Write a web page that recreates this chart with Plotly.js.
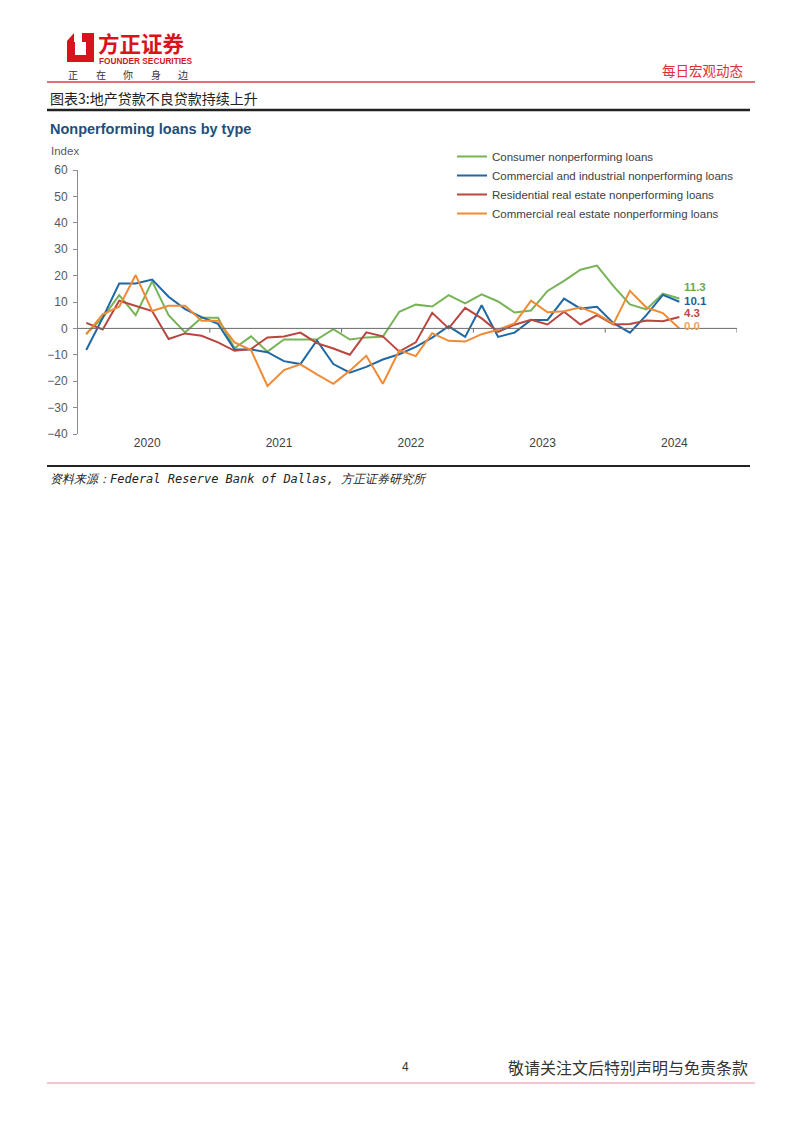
<!DOCTYPE html>
<html>
<head>
<meta charset="utf-8">
<script src="https://cdn.plot.ly/plotly-3.0.1.min.js"></script>
<style>html,body{margin:0;padding:0;background:#fff;}#chart{width:802px;height:1133px;}</style>
</head>
<body>
<div id="chart"></div>
<script>
// ---- data (8 survey readings per year) ----
const years = ['2020', '2021', '2022', '2023', '2024'];
const perYear = 8;
const seriesNames = [
  'Consumer nonperforming loans',
  'Commercial and industrial nonperforming loans',
  'Residential real estate nonperforming loans',
  'Commercial real estate nonperforming loans'
];
const consumer = [-2, 4, 12.6, 5, 17.8, 5, -1.5, 4, 4, -7.5, -3, -8.8, -4.2, -4.2, -4.2, -0.3, -4.2, -3.4, -3.2,
  6.3, 9, 8.3, 12.6, 9.5, 12.9, 10.2, 6, 6.8, 14.2, 18, 22.2, 23.8, 16, 9.1, 7.2, 13.2, 11.3];
const commercialIndustrial = [-8.2, 4, 17, 17, 18.5, 12, 7.3, 4.3, 1.7, -8, -8, -9, -12.4, -13.5, -4.6, -13.5, -16.8, -14.6, -11.8,
  -9.8, -7, -3.5, 0.8, -3.2, 8.8, -3.2, -1.6, 3.2, 3.2, 11.3, 7.5, 8.2, 2, -1.6, 5, 12.7, 10.1];
const residential = [2.1, -0.4, 10.5, 8.6, 6.6, -4, -1.9, -2.8, -5.3, -8.5, -7.8, -3.4, -3.1, -1.6, -5.6, -7.6, -10, -1.5, -3,
  -8.8, -5.3, 5.9, 0, 7.8, 3.8, -1.3, 1.4, 3.3, 1.5, 6.3, 1.5, 5, 1.5, 1.7, 3, 2.7, 4.3];
const commercialRE = [-2.3, 5.3, 8.2, 20.2, 6.6, 8.6, 8.6, 2.9, 2.9, -5.3, -8.2, -21.8, -15.8, -13.6, -17.4, -21, -16, -10.4, -21,
  -8.3, -10.5, -1.8, -4.7, -5, -2.2, -0.5, 1.9, 10.5, 6.1, 6.5, 8, 5.5, 1.7, 14.2, 7.9, 5.8, 0];
const yTicks = [60, 50, 40, 30, 20, 10, 0, -10, -20, -30, -40];
const sloganChars = ['正', '在', '你', '身', '边'];

// ---- styles ----
const colors = ['#77b457', '#1f68a3', '#b8463f', '#ef8a35'];
const labelColors = ['#6aaa4a', '#1f5f99', '#be4a47', '#f0a35a'];
const labelShift = [12, 1, 4, 2];

const W = 802, H = 1133;
const px = v => v / W;
const py = v => 1 - v / H;

const allSeries = [consumer, commercialIndustrial, residential, commercialRE];
const nSlots = years.length * perYear;

const traces = allSeries.map((s, k) => ({
  type: 'scatter', mode: 'lines', name: seriesNames[k],
  x: s.map((_, i) => i), y: s,
  line: {color: colors[k], width: 2},
  hoverinfo: 'skip'
}));

const shapes = [];
const annotations = [];
const font = 'Liberation Sans, Arial, sans-serif';
const cjk = 'Noto Sans CJK SC, sans-serif';

// zero line with year separators
shapes.push({type: 'line', xref: 'x', yref: 'y', x0: -0.5, x1: nSlots - 0.5, y0: 0, y1: 0, line: {color: '#6b6b6b', width: 1}});
for (let k = 1; k <= years.length; k++) {
  const xv = k * perYear - 0.5;
  shapes.push({type: 'line', xref: 'x', yref: 'y', x0: xv, x1: xv, y0: 0, y1: -1.6, line: {color: '#6b6b6b', width: 1}});
}

// end labels
allSeries.forEach((s, k) => {
  const last = s[s.length - 1];
  annotations.push({xref: 'x', yref: 'y', x: s.length - 1, y: last, text: '<b>' + last.toFixed(1) + '</b>',
    showarrow: false, xanchor: 'left', yanchor: 'middle', xshift: 4, yshift: labelShift[k], borderpad: 0,
    font: {family: font, size: 11.5, color: labelColors[k]}});
});

// chart title and axis unit
annotations.push({xref: 'paper', yref: 'paper', x: px(48), y: py(129), xanchor: 'left', yanchor: 'middle', showarrow: false,
  text: '<b>Nonperforming loans by type</b>', font: {family: font, size: 14.5, color: '#1d4f7c'}});
annotations.push({xref: 'paper', yref: 'paper', x: px(49), y: py(151), xanchor: 'left', yanchor: 'middle', showarrow: false,
  text: 'Index', font: {family: font, size: 11.5, color: '#595959'}});

// ---- page header ----
shapes.push({type: 'path', xref: 'paper', yref: 'paper', fillcolor: '#d7141d', line: {width: 0},
  path: `M ${px(74)} ${py(33)} L ${px(94)} ${py(33)} L ${px(94)} ${py(62)} L ${px(67)} ${py(62)} L ${px(67)} ${py(41)} Z
         M ${px(75)} ${py(42)} L ${px(86)} ${py(42)} L ${px(86)} ${py(55)} L ${px(75)} ${py(55)} Z`});
shapes.push({type: 'path', xref: 'paper', yref: 'paper', fillcolor: '#ffffff', line: {width: 0},
  path: `M ${px(74)} ${py(32)} L ${px(82)} ${py(32)} L ${px(82)} ${py(42)} L ${px(74)} ${py(42)} Z`});
annotations.push({xref: 'paper', yref: 'paper', x: px(96), y: py(43), xanchor: 'left', yanchor: 'middle', showarrow: false,
  text: '<b>方正证券</b>', font: {family: cjk, size: 21.5, color: '#d7141d'}});
annotations.push({xref: 'paper', yref: 'paper', x: px(97), y: py(61), xanchor: 'left', yanchor: 'middle', showarrow: false,
  text: '<b>FOUNDER SECURITIES</b>', font: {family: font, size: 8.3, color: '#d7141d'}});
sloganChars.forEach((c, i) => {
  annotations.push({xref: 'paper', yref: 'paper', x: px(73 + i * 27.5), y: py(75), xanchor: 'center', yanchor: 'middle', showarrow: false,
    text: c, font: {family: cjk, size: 10, color: '#333333'}});
});
annotations.push({xref: 'paper', yref: 'paper', x: px(745), y: py(70), xanchor: 'right', yanchor: 'middle', showarrow: false,
  text: '每日宏观动态', font: {family: cjk, size: 13.5, color: '#e0303a'}});
shapes.push({type: 'line', xref: 'paper', yref: 'paper', x0: px(47), x1: px(755), y0: py(82), y1: py(82), line: {color: '#e03a4c', width: 1.3}});
annotations.push({xref: 'paper', yref: 'paper', x: px(48), y: py(98), xanchor: 'left', yanchor: 'middle', showarrow: false,
  text: '图表3:地产贷款不良贷款持续上升', font: {family: cjk, size: 14, color: '#222222'}});
shapes.push({type: 'line', xref: 'paper', yref: 'paper', x0: px(47), x1: px(750), y0: py(110), y1: py(110), line: {color: '#222222', width: 2.5}});
shapes.push({type: 'line', xref: 'paper', yref: 'paper', x0: px(47), x1: px(750), y0: py(466), y1: py(466), line: {color: '#222222', width: 2}});
annotations.push({xref: 'paper', yref: 'paper', x: px(48), y: py(479), xanchor: 'left', yanchor: 'middle', showarrow: false,
  text: '<i>资料来源：Federal Reserve Bank of Dallas, 方正证券研究所</i>', font: {family: 'DejaVu Sans Mono, monospace', size: 12, color: '#222222'}});

// ---- footer ----
shapes.push({type: 'line', xref: 'paper', yref: 'paper', x0: px(47), x1: px(755), y0: py(1083), y1: py(1083), line: {color: '#e88a9c', width: 1}});
annotations.push({xref: 'paper', yref: 'paper', x: px(405), y: py(1067), xanchor: 'center', yanchor: 'middle', showarrow: false,
  text: '4', font: {family: font, size: 12, color: '#333333'}});
annotations.push({xref: 'paper', yref: 'paper', x: px(750), y: py(1067), xanchor: 'right', yanchor: 'middle', showarrow: false,
  text: '敬请关注文后特别声明与免责条款', font: {family: cjk, size: 16, color: '#333333'}});

const layout = {
  width: W, height: H,
  margin: {l: 0, r: 0, t: 0, b: 0},
  paper_bgcolor: '#ffffff', plot_bgcolor: 'rgba(0,0,0,0)',
  showlegend: true,
  legend: {x: px(452), y: py(142), xanchor: 'left', yanchor: 'top', bgcolor: 'rgba(0,0,0,0)',
    font: {family: font, size: 11.5, color: '#404040'}, tracegroupgap: 0, itemwidth: 30},
  xaxis: {domain: [px(78), px(737)], range: [-0.5, nSlots - 0.5], showgrid: false, zeroline: false, showline: false,
    ticks: '', tickvals: years.map((_, k) => k * perYear + (perYear - 1) / 2 + 0.2), ticktext: years,
    tickfont: {family: font, size: 12, color: '#404040'}, fixedrange: true},
  yaxis: {domain: [py(434), py(170)], range: [-40, 60], tickvals: yTicks, showgrid: false, zeroline: false,
    showline: true, linecolor: '#8c8c8c', linewidth: 1, ticks: 'outside', ticklen: 4, tickcolor: '#8c8c8c',
    ticklabelstandoff: 3, tickfont: {family: font, size: 12, color: '#595959'}, fixedrange: true},
  shapes: shapes,
  annotations: annotations
};

Plotly.newPlot('chart', traces, layout, {staticPlot: true, displayModeBar: false});
</script>
</body>
</html>
